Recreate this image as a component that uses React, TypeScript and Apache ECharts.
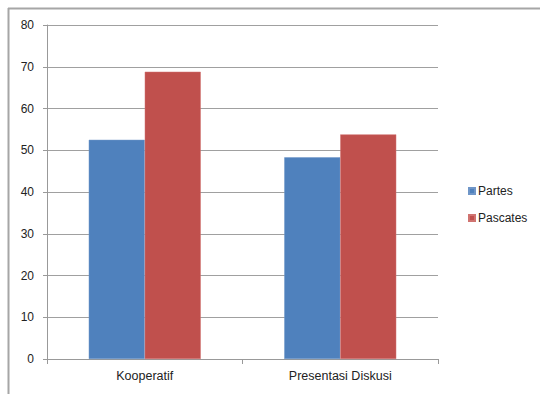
import React, { useEffect, useRef } from "react";
import * as echarts from "echarts";

const categories = ["Kooperatif", "Presentasi Diskusi"];
const partes = [52.5, 48.3];
const pascates = [68.8, 53.8];
const seriesNames = ["Partes", "Pascates"];
const yTicks = { min: 0, max: 80, interval: 10 };

export default function App() {
  const ref = useRef<HTMLDivElement>(null);
  useEffect(() => {
    if (!ref.current) return;
    const chart = echarts.init(ref.current, undefined, { renderer: "svg" });
    const font = "'Liberation Sans', Arial, sans-serif";
    chart.setOption({
      animation: false,
      backgroundColor: "#ffffff",
      grid: { left: 47, right: 102, top: 25, bottom: 35, containLabel: false },
      legend: {
        orient: "vertical",
        left: 463,
        top: 179,
        itemWidth: 6,
        itemHeight: 6,
        itemGap: 13,
        icon: "rect",
        textStyle: { fontSize: 12, color: "#222", fontFamily: font, lineHeight: 14, padding: [0, 0, 0, -2] },
        data: seriesNames,
      },
      xAxis: {
        type: "category",
        data: categories,
        axisLine: { lineStyle: { color: "#999", width: 1 } },
        axisTick: { show: true, length: 5, alignWithLabel: false, lineStyle: { color: "#999" } },
        axisLabel: { fontSize: 12.5, color: "#222", fontFamily: font, margin: 10 },
        splitLine: { show: false },
      },
      yAxis: {
        type: "value",
        min: yTicks.min,
        max: yTicks.max,
        interval: yTicks.interval,
        axisLine: { show: true, lineStyle: { color: "#999", width: 1 } },
        axisTick: { show: true, length: 4, lineStyle: { color: "#999" } },
        axisLabel: { fontSize: 12, color: "#222", fontFamily: font, margin: 13 },
        splitLine: { show: true, lineStyle: { color: "#a0a0a0", width: 1 } },
      },
      series: [
        {
          name: seriesNames[0],
          type: "bar",
          data: partes,
          barWidth: 56,
          barGap: "0%",
          itemStyle: { color: "#4F81BD", borderColor: "#6f96c8", borderWidth: 0.5 },
        },
        {
          name: seriesNames[1],
          type: "bar",
          data: pascates,
          barWidth: 56,
          barGap: "0%",
          itemStyle: { color: "#C0504D", borderColor: "#d07370", borderWidth: 0.5 },
        },
      ],
      graphic: [
        {
          type: "line",
          shape: { x1: 8, y1: 8.5, x2: 540, y2: 8.5 },
          style: { stroke: "#a6a6a6", lineWidth: 2 },
        },
        {
          type: "line",
          shape: { x1: 8.5, y1: 8, x2: 8.5, y2: 394 },
          style: { stroke: "#a6a6a6", lineWidth: 2 },
        },
      ],
    });
    return () => chart.dispose();
  }, []);
  return (
    <div
      ref={ref}
      style={{ position: "absolute", left: 0, top: 0, width: 540, height: 394 }}
    />
  );
}
